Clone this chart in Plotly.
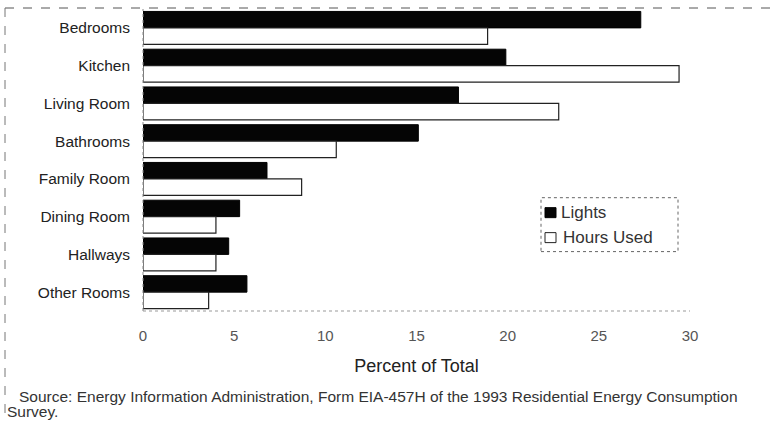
import plotly.graph_objects as go

# Share of lighting by room (percent of total), 1993 RECS
rooms = ["Bedrooms", "Kitchen", "Living Room", "Bathrooms",
         "Family Room", "Dining Room", "Hallways", "Other Rooms"]
lights = [27.3, 19.9, 17.3, 15.1, 6.8, 5.3, 4.7, 5.7]
hours_used = [18.9, 29.4, 22.8, 10.6, 8.7, 4.0, 4.0, 3.6]
x_ticks = [0, 5, 10, 15, 20, 25, 30]

W, H = 771, 423
L, R, T, B = 143, 81, 9, 111.5
pw, ph = W - L - R, H - T - B


def px_x(px):
    return (px - L) / pw


def px_y(py):
    return (H - B - py) / ph


FONT = "Liberation Sans, Arial, sans-serif"
LIGHTS_FILL = "#050505"
HOURS_FILL = "#ffffff"
HOURS_EDGE = "#222222"

fig = go.Figure()
fig.add_trace(go.Bar(
    y=rooms, x=lights, name="Lights", orientation="h",
    marker=dict(color=LIGHTS_FILL, line=dict(color="#000000", width=1)),
))
fig.add_trace(go.Bar(
    y=rooms, x=hours_used, name="Hours Used", orientation="h",
    marker=dict(color=HOURS_FILL, line=dict(color=HOURS_EDGE, width=1.2)),
))

shapes = [
    # outer frame fragments
    dict(type="line", xref="paper", yref="paper", x0=px_x(5), x1=px_x(771),
         y0=px_y(8), y1=px_y(8), line=dict(color="#555555", width=1, dash="dash")),
    dict(type="line", xref="paper", yref="paper", x0=px_x(5), x1=px_x(5),
         y0=px_y(8), y1=px_y(415), line=dict(color="#777777", width=1, dash="dash")),
    # axis lines
    dict(type="line", xref="paper", yref="paper", x0=0, x1=0, y0=0, y1=1,
         line=dict(color="#888888", width=1, dash="dot")),
    dict(type="line", xref="paper", yref="paper", x0=0, x1=1, y0=0, y1=0,
         line=dict(color="#999999", width=1, dash="dot")),
    # key frame and swatches
    dict(type="rect", xref="paper", yref="paper", x0=px_x(541), x1=px_x(678),
         y0=px_y(252), y1=px_y(198), line=dict(color="#666666", width=1, dash="dot")),
    dict(type="rect", xref="paper", yref="paper", x0=px_x(545), x1=px_x(556),
         y0=px_y(218), y1=px_y(208), fillcolor=LIGHTS_FILL,
         line=dict(color="#000000", width=1)),
    dict(type="rect", xref="paper", yref="paper", x0=px_x(545), x1=px_x(556),
         y0=px_y(243), y1=px_y(233), fillcolor=HOURS_FILL,
         line=dict(color=HOURS_EDGE, width=1)),
]

annotations = [
    dict(text="Lights", xref="paper", yref="paper", x=px_x(559), y=px_y(213),
         xanchor="left", yanchor="middle", showarrow=False,
         font=dict(family=FONT, size=17, color="#333333")),
    dict(text="Hours Used", xref="paper", yref="paper", x=px_x(561), y=px_y(238),
         xanchor="left", yanchor="middle", showarrow=False,
         font=dict(family=FONT, size=17, color="#333333")),
    dict(text="Source: Energy Information Administration, Form EIA-457H of the 1993 "
              "Residential Energy Consumption",
         xref="paper", yref="paper", x=px_x(17), y=px_y(397), xanchor="left",
         yanchor="middle", showarrow=False,
         font=dict(family=FONT, size=15.5, color="#333333")),
    dict(text="Survey.", xref="paper", yref="paper", x=px_x(5), y=px_y(412),
         xanchor="left", yanchor="middle", showarrow=False,
         font=dict(family=FONT, size=15.5, color="#333333")),
]

fig.update_layout(
    width=W, height=H,
    margin=dict(l=L, r=R, t=T, b=B, pad=0),
    paper_bgcolor="white", plot_bgcolor="white",
    barmode="group", bargap=0.13, bargroupgap=0,
    showlegend=False,
    shapes=shapes,
    annotations=annotations,
    font=dict(family=FONT),
)
fig.update_xaxes(
    range=[0, 30], tickvals=x_ticks, ticktext=[str(v) for v in x_ticks],
    showgrid=False, zeroline=False, showline=False, ticks="",
    tickfont=dict(family=FONT, size=15, color="#555555"), ticklabelstandoff=14,
    title=dict(text="Percent of Total", standoff=16,
               font=dict(family=FONT, size=18, color="#222222")),
)
fig.update_yaxes(
    autorange="reversed", showgrid=False, zeroline=False, showline=False,
    ticks="", ticklabelstandoff=12,
    tickfont=dict(family=FONT, size=15.5, color="#222222"),
)

fig.write_html("out.html")
